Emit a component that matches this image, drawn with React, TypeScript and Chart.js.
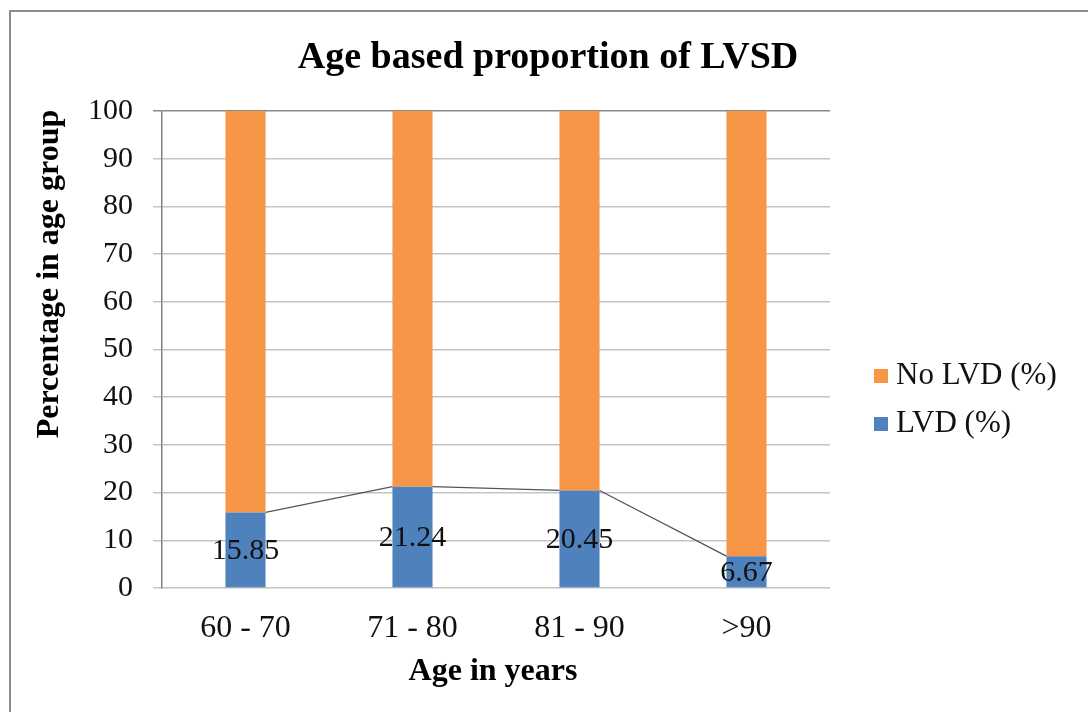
import React, { useEffect, useRef } from "react";
import { Chart, registerables } from "chart.js";

Chart.register(...registerables);

const categories = ["60 - 70", "71 - 80", "81 - 90", ">90"];
const lvdValues = [15.85, 21.24, 20.45, 6.67];
const noLvdValues = [84.15, 78.76, 79.55, 93.33];
const seriesNames = ["LVD (%)", "No LVD (%)"];
const seriesColors = ["#4F81BD", "#F79646"];
const chartTitle = "Age based proportion of LVSD";
const xTitle = "Age in years";
const yTitle = "Percentage in age group";

const SERIF = "'Liberation Serif', 'Times New Roman', serif";

const overlayPlugin = {
  id: "overlay",
  afterDatasetsDraw(chart: any) {
    const ctx = chart.ctx;
    const meta = chart.getDatasetMeta(0);
    const bars = meta.data;
    // series lines between tops of blue bars
    ctx.save();
    ctx.strokeStyle = "#555555";
    ctx.lineWidth = 1.3;
    for (let i = 0; i < bars.length - 1; i++) {
      const a = bars[i];
      const b = bars[i + 1];
      ctx.beginPath();
      ctx.moveTo(a.x + a.width / 2, a.y);
      ctx.lineTo(b.x - b.width / 2, b.y);
      ctx.stroke();
    }
    // data labels centred in blue bars
    ctx.fillStyle = "#111111";
    ctx.font = `30px ${SERIF}`;
    ctx.textAlign = "center";
    ctx.textBaseline = "middle";
    bars.forEach((bar: any, i: number) => {
      const cy = (bar.y + bar.base) / 2;
      ctx.fillText(lvdValues[i].toFixed(2), bar.x, cy + 1);
    });
    ctx.restore();
  },
  afterDraw(chart: any) {
    const ctx = chart.ctx;
    const area = chart.chartArea;
    ctx.save();
    ctx.fillStyle = "#000000";
    ctx.textAlign = "center";
    ctx.textBaseline = "middle";
    // main title
    ctx.font = `bold 38px ${SERIF}`;
    ctx.fillText(chartTitle, 548, 58);
    // x title
    ctx.font = `bold 32px ${SERIF}`;
    ctx.fillText(xTitle, (area.left + area.right) / 2 - 3, 672);
    // y title
    ctx.save();
    ctx.translate(50, 274);
    ctx.rotate(-Math.PI / 2);
    ctx.font = `bold 32px ${SERIF}`;
    ctx.fillText(yTitle, 0, 0);
    ctx.restore();
    // legend (reverse order: No LVD on top)
    const items = [1, 0];
    ctx.font = `31px ${SERIF}`;
    ctx.textAlign = "left";
    items.forEach((di, k) => {
      const cy = 376 + k * 48;
      ctx.fillStyle = chart.data.datasets[di].backgroundColor;
      ctx.fillRect(874, cy - 7, 14, 14);
      ctx.fillStyle = "#111111";
      ctx.fillText(chart.data.datasets[di].label, 896, cy);
    });
    ctx.restore();
  },
};

export default function App() {
  const canvasRef = useRef<HTMLCanvasElement | null>(null);

  useEffect(() => {
    if (!canvasRef.current) return;
    const chart = new Chart(canvasRef.current, {
      type: "bar",
      data: {
        labels: categories,
        datasets: [
          {
            label: seriesNames[0],
            data: lvdValues,
            backgroundColor: seriesColors[0],
            categoryPercentage: 1,
            barPercentage: 0.24,
          },
          {
            label: seriesNames[1],
            data: noLvdValues,
            backgroundColor: seriesColors[1],
            categoryPercentage: 1,
            barPercentage: 0.24,
          },
        ],
      },
      options: {
        responsive: false,
        animation: false,
        layout: { padding: { left: 0, right: 258, top: 111, bottom: 0 } },
        plugins: {
          legend: { display: false },
          title: { display: false },
          tooltip: { enabled: false },
        },
        scales: {
          x: {
            stacked: true,
            grid: { display: false, drawTicks: false },
            border: { display: false },
            ticks: {
              color: "#111111",
              font: { family: SERIF, size: 32 },
              padding: 21,
            },
            afterFit(scale: any) {
              scale.height = 124;
            },
          },
          y: {
            stacked: true,
            min: 0,
            max: 100,
            ticks: {
              stepSize: 10,
              color: "#111111",
              font: { family: SERIF, size: 30 },
              padding: 20,
            },
            grid: {
              color: (c: any) => (c.tick && c.tick.value === 100 ? "#8a8a8a" : "#c4c4c4"),
              lineWidth: 1.5,
              tickLength: 9,
            },
            border: { display: true, color: "#808080", width: 1.5 },
            afterFit(scale: any) {
              scale.width = 162;
            },
          },
        },
      },
      plugins: [overlayPlugin],
    });
    return () => chart.destroy();
  }, []);

  return (
    <div style={{ position: "fixed", left: 0, top: 0, width: 1088, height: 712, background: "#ffffff" }}>
      <div
        style={{
          position: "absolute",
          left: 9,
          top: 10,
          width: 1100,
          height: 720,
          border: "2px solid #8c8c8c",
          boxSizing: "border-box",
        }}
      />
      <canvas
        ref={canvasRef}
        width={1088}
        height={712}
        style={{ position: "absolute", left: 0, top: 0, width: 1088, height: 712 }}
      />
    </div>
  );
}
